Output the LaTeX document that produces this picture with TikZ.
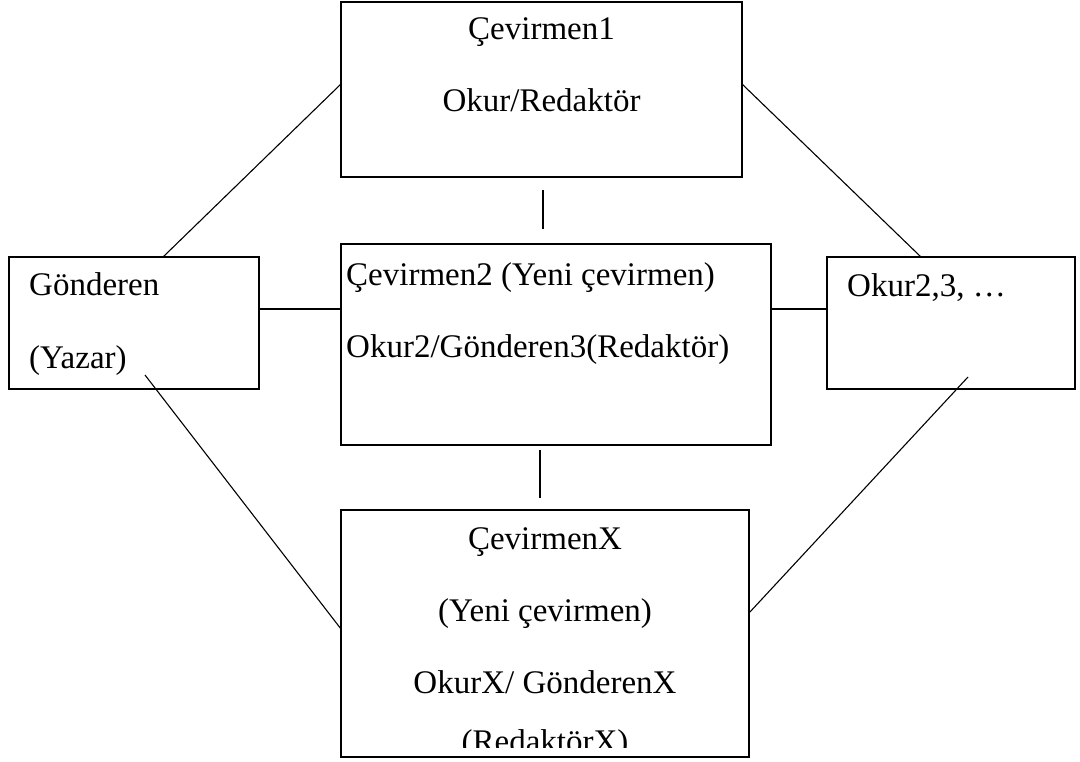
\documentclass[tikz,border=0pt]{standalone}
\usepackage{fontspec}
\setmainfont{Liberation Serif}
\usetikzlibrary{calc}
\tikzset{
  box/.style={draw=black, line width=1.3pt, rectangle, anchor=north west, inner sep=0pt, outer sep=0pt},
  txt/.style={anchor=base, inner sep=0pt, font=\fontsize{33}{40}\selectfont},
  txtl/.style={anchor=base west, inner sep=0pt, font=\fontsize{33}{40}\selectfont},
  conn/.style={draw=black, line width=1.1pt}
}
\begin{document}
\begin{tikzpicture}[x=1pt,y=-1pt]
\useasboundingbox (0,0) rectangle (1080,762);
% boxes
\node[box, minimum width=401pt, minimum height=175pt] (c1) at (341,2) {};
\node[box, minimum width=250pt, minimum height=132pt] (g) at (9,257) {};
\node[box, minimum width=430pt, minimum height=201pt] (c2) at (341,244) {};
\node[box, minimum width=248pt, minimum height=132pt] (o) at (827,257) {};
\node[box, minimum width=408pt, minimum height=247pt] (cx) at (341,510) {};
% texts
\node[txt] (t1a) at (541.5,40) {Çevirmen1};
\node[txt] (t1b) at (541.5,112) {Okur/Redaktör};
\node[txtl] (tga) at (29,296) {Gönderen};
\node[txtl] (tgb) at (29,368) {(Yazar)};
\node[txtl] (t2a) at (346,286) {Çevirmen2 (Yeni çevirmen)};
\node[txtl] (t2b) at (346,358) {Okur2/Gönderen3(Redaktör)};
\node[txtl] (toa) at (847,297) {Okur2,3, …};
\node[txt] (txa) at (545,549) {ÇevirmenX};
\node[txt] (txb) at (545,621) {(Yeni çevirmen)};
\node[txt] (txc) at (545,693) {OkurX/ GönderenX};
\begin{scope}
\clip (341,510) rectangle (749,747);
\node[txt] (txd) at (545,752) {(RedaktörX)};
\end{scope}
% connector end points
\coordinate (gtop) at (g.north -| 163,0);
\coordinate (c1l) at (c1.west |- 0,84);
\coordinate (c1r) at (c1.east |- 0,84);
\coordinate (otop) at (o.north -| 921,0);
\coordinate (gin) at (145,375);
\coordinate (oin) at (968,377);
\coordinate (cxl) at (cx.west |- 0,629);
\coordinate (cxr) at (cx.east |- 0,613);
\coordinate (v1a) at (543,190);
\coordinate (v1b) at (543,229);
\coordinate (v2a) at (540,450);
\coordinate (v2b) at (540,498);
% connectors
\draw[conn] (gtop) -- (c1l);
\draw[conn] (c1r) -- (otop);
\draw[conn] (g.east |- 0,309) -- (c2.west |- 0,309);
\draw[conn] (c2.east |- 0,309) -- (o.west |- 0,309);
\draw[conn] (gin) -- (cxl);
\draw[conn] (oin) -- (cxr);
\draw[conn] (v1a) -- (v1b);
\draw[conn] (v2a) -- (v2b);
\end{tikzpicture}
\end{document}
